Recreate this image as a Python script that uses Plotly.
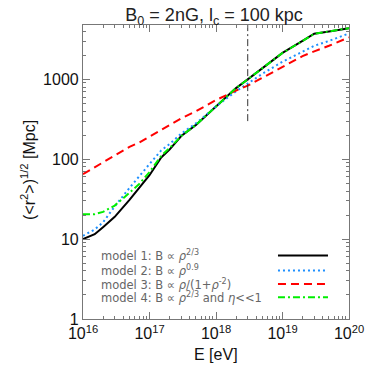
import plotly.graph_objects as go

# Energy grid [eV]
E = [1.0e16, 1.5e16, 2.0e16, 3.0e16, 5.0e16, 7.0e16,
     1.0e17, 1.5e17, 2.0e17, 3.0e17, 5.0e17, 7.0e17,
     1.0e18, 2.0e18, 3.0e18, 5.0e18, 1.0e19, 2.0e19, 3.0e19, 5.0e19, 1.0e20]

# (<r^2>)^{1/2} [Mpc]
r_model1 = [10, 11.5, 14.1, 19, 31, 44, 63, 105, 132, 195, 269, 347,
            457, 776, 1000, 1380, 2140, 3020, 3720, 3980, 4370]
r_model2 = [11, 13.2, 16.2, 25.7, 43.7, 61.7, 87, 129, 155, 209, 282, 355,
            457, 708, 891, 1175, 1660, 2240, 2630, 3020, 3760]
r_model3 = [65, 79, 93, 112, 143, 162, 191, 232, 269, 324, 398, 468,
            550, 724, 832, 1047, 1445, 1950, 2240, 2630, 3350]
r_model4 = [20.5, 20.5, 21.9, 26.3, 38, 49, 69, 110, 138, 195, 269, 347,
            457, 776, 1000, 1380, 2140, 3020, 3720, 3980, 4370]

# vertical marker
vline_E = [3.0e18, 3.0e18]
vline_r = [300, 5000]

labels = [
    "model 1: B ∝ <i>ρ</i><sup>2/3</sup>",
    "model 2: B ∝ <i>ρ</i><sup>0.9</sup>",
    "model 3: B ∝ <i>ρ</i>/(1+<i>ρ</i><sup>-2</sup>)",
    "model 4: B ∝ <i>ρ</i><sup>2/3</sup> and <i>η</i><<1",
]
colors = ["black", "#1e90ff", "#ff0000", "#00ee00"]
dashes = ["solid", "2px,3px", "8px,5px", "7px,3px,2px,3px"]

x_ticks = [1e16, 1e17, 1e18, 1e19, 1e20]
x_ticktext = ["10<sup>16</sup>", "10<sup>17</sup>", "10<sup>18</sup>",
              "10<sup>19</sup>", "10<sup>20</sup>"]
y_ticks = [1, 10, 100, 1000]
y_ticktext = ["1", "10", "100", "1000"]

FONT = "Liberation Sans, Arial, sans-serif"
WFONT = "DejaVu Sans, Liberation Sans, sans-serif"

fig = go.Figure()
series = [r_model1, r_model2, r_model3, r_model4]
for s, c, d in zip(series, colors, dashes):
    fig.add_trace(go.Scatter(x=E, y=s, mode="lines",
                             line=dict(color=c, width=2, dash=d),
                             showlegend=False, hoverinfo="skip"))

fig.add_trace(go.Scatter(x=vline_E, y=vline_r, mode="lines",
                         line=dict(color="#333", width=1, dash="7px,3px,2px,3px"),
                         showlegend=False, hoverinfo="skip"))

# legend (text on left, line sample on right)
row_y = [0.216, 0.165, 0.119, 0.074]
for lab, c, d, yy in zip(labels, colors, dashes, row_y):
    fig.add_annotation(x=0.062, y=yy, xref="paper", yref="paper",
                       text=lab, showarrow=False, xanchor="left",
                       yanchor="middle", align="left",
                       font=dict(size=11.5, color="#666", family=WFONT))
    fig.add_shape(type="line", xref="paper", yref="paper",
                  x0=0.733, x1=0.921, y0=yy, y1=yy,
                  line=dict(color=c, width=2, dash=d))

# axis titles
fig.add_annotation(x=0.5, y=-0.122, xref="paper", yref="paper",
                   text="E [eV]", showarrow=False, xanchor="center",
                   yanchor="middle", font=dict(size=16, color="#111", family=FONT))
fig.add_annotation(x=-0.207, y=0.507, xref="paper", yref="paper",
                   text="(<r<sup>2</sup>>)<sup>1/2</sup> [Mpc]", textangle=-90,
                   showarrow=False, xanchor="center", yanchor="middle",
                   font=dict(size=16, color="#111", family=FONT))

minor_x = [float(m) * 10.0 ** p for p in range(16, 20) for m in range(2, 10)]
minor_y = [float(m) * 10.0 ** p for p in range(0, 4) for m in range(2, 10)
           if m * 10 ** p < 4800]

axis_common = dict(showline=True, linecolor="#777", linewidth=1.2,
                   mirror="allticks", ticks="inside", ticklen=7,
                   tickcolor="#777", showgrid=False, zeroline=False,
                   automargin=False,
                   tickfont=dict(size=16, color="#111", family=FONT))

fig.update_xaxes(type="log", range=[16, 20], tickmode="array",
                 tickvals=x_ticks, ticktext=x_ticktext,
                 minor=dict(ticks="inside", ticklen=3, tickcolor="#777",
                            tickmode="array", tickvals=minor_x, showgrid=False),
                 **axis_common)
fig.update_yaxes(type="log", range=[0, 3.68], tickmode="array",
                 tickvals=y_ticks, ticktext=y_ticktext,
                 minor=dict(ticks="inside", ticklen=3, tickcolor="#777",
                            tickmode="array", tickvals=minor_y, showgrid=False),
                 **axis_common)

fig.update_layout(
    width=366, height=366,
    margin=dict(l=75, r=25, t=17, b=55),
    paper_bgcolor="white", plot_bgcolor="white",
    title=dict(text="B<sub>0</sub> = 2nG, l<sub>c</sub> = 100 kpc",
               x=0.563, xanchor="center", y=0.981, yanchor="middle",
               font=dict(size=18, color="#222", family=FONT)),
)

fig.write_html("out.html")
